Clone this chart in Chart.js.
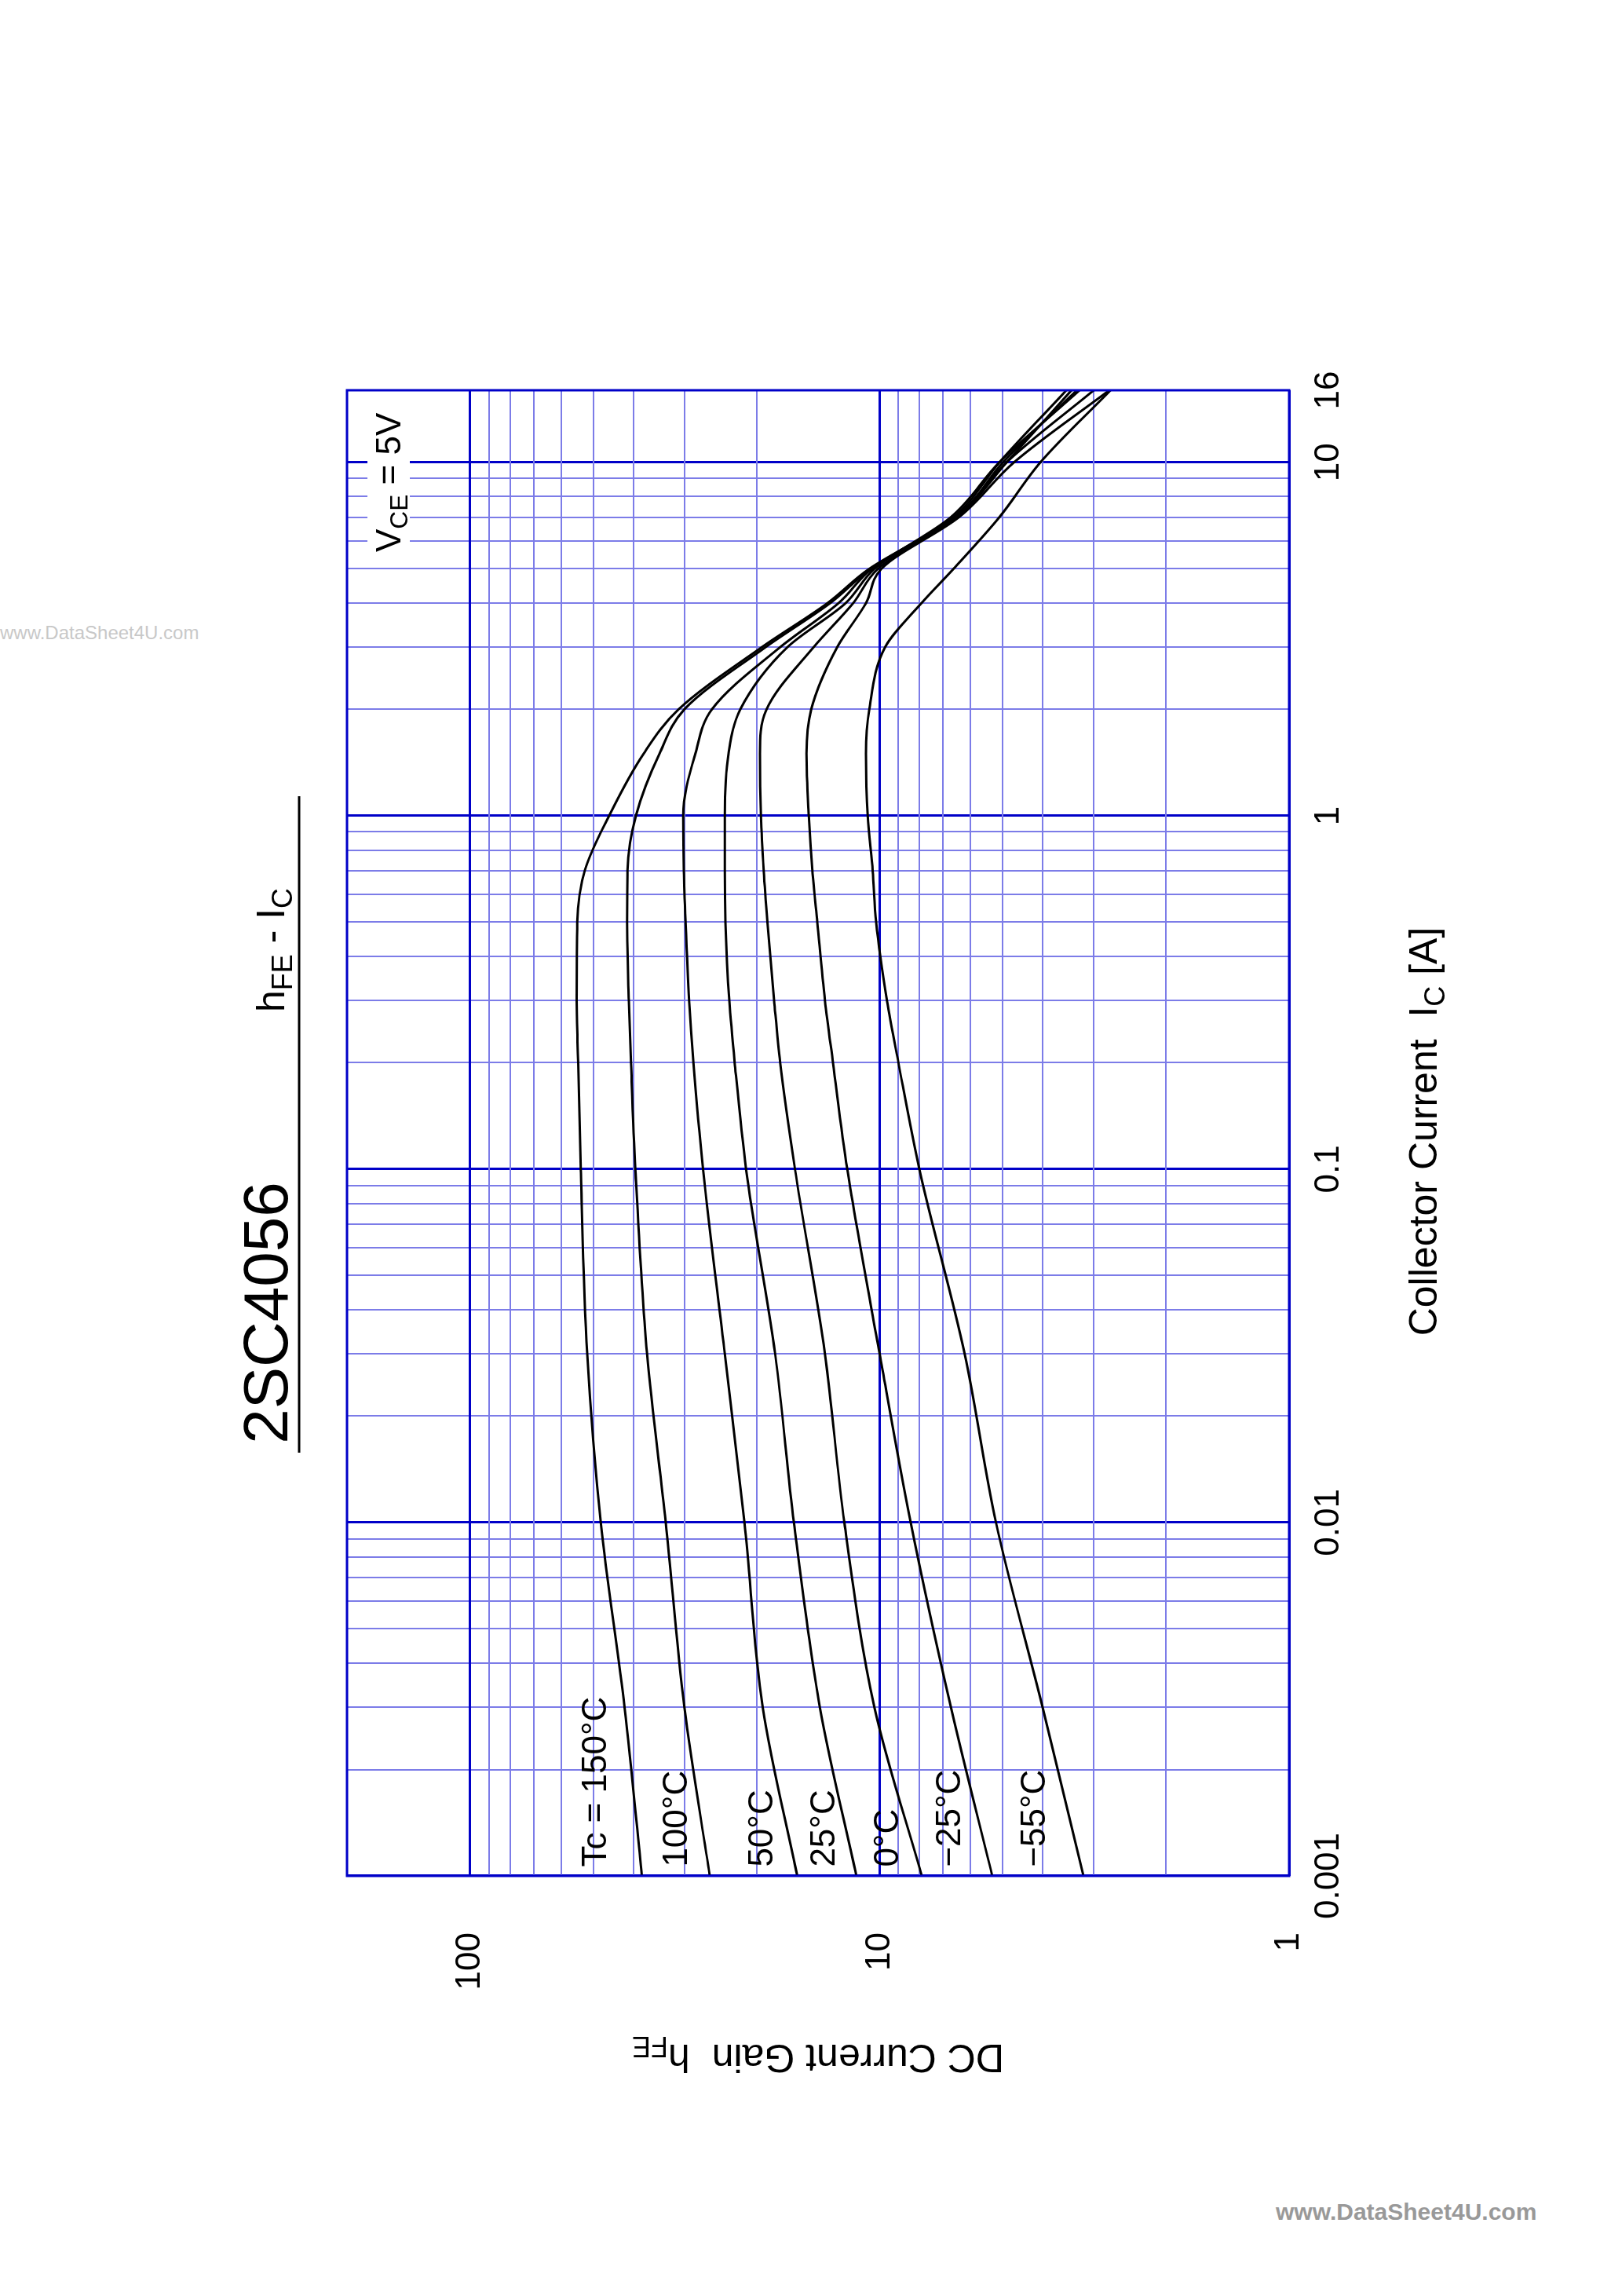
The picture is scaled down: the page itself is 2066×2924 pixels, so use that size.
<!DOCTYPE html>
<html><head><meta charset="utf-8">
<script src="https://cdn.jsdelivr.net/npm/chart.js@4"></script>
<style>
html,body{margin:0;padding:0;background:#fff;width:2066px;height:2924px;overflow:hidden;position:relative;font-family:"Liberation Sans",Arial,sans-serif}
#rot{position:absolute;left:0;top:0;width:2924px;height:2066px;transform-origin:0 0;transform:translate(0,2924px) rotate(-90deg)}
.wm1{position:absolute;left:0;top:792px;font-size:24px;color:#c8c8c8}
.wm2{position:absolute;left:1625px;top:2800px;font-size:30px;font-weight:bold;color:#999}
</style></head><body>
<div class="wm1">www.DataSheet4U.com</div>
<div class="wm2">www.DataSheet4U.com</div>
<div id="rot"><canvas id="c" width="2924" height="2066"></canvas></div>
<script>
const collectorCurrent=[0.001,0.003,0.01,0.03,0.1,0.2,0.3,0.5,0.7,1,1.5,2,3,4,5,7,10,16];
const hfe150=[38.1,42,48,51.8,53.7,54.5,55,54.8,52.5,45.8,37.7,31,19.4,13.4,10.6,6.5,4.9,3.4];
const hfe100=[26.0,30,33.3,37,39.5,40.5,41,41.4,41.3,39.4,34.5,30,19.0,13.2,10.5,6.5,5.0,3.3];
const hfe50=[15.9,19.3,21.4,23.9,27,28.5,29.2,29.8,30.1,30.2,28.2,25.7,17.5,12.6,10.45,6.6,5.1,3.5];
const hfe25=[11.4,14.0,16.2,18.0,21.2,22.6,23.3,23.8,23.9,23.9,23.4,21.9,16.8,12.1,10.3,6.7,5.1,3.25];
const hfe0=[7.89,10.3,12.2,13.6,16.1,17.5,18.1,18.8,19.2,19.5,19.6,18.9,14.5,11.6,10.1,6.5,4.9,3.0];
const hfeM25=[5.31,6.7,8.4,10.0,12.0,13.0,13.6,14.2,14.6,14.9,15.1,14.7,12.7,10.8,9.9,6.4,4.7,2.75];
const hfeM55=[3.18,4.0,5.2,6.2,8.0,9.0,9.6,10.2,10.4,10.7,10.8,10.6,9.7,7.9,6.6,5.1,4.05,2.73];
const seriesNames=["Tc = 150°C","100°C","50°C","25°C","0°C","−25°C","−55°C"];
const labelHfe=[46.6,29.5,18.3,12.9,9.0,6.35,3.94];
const xTickLabels=["0.001","0.01","0.1","1","10","16"];
const yTickLabels=["1","10","100"];

const all=[hfe150,hfe100,hfe50,hfe25,hfe0,hfeM25,hfeM55];
const MAJ='#0000c8', MIN='#7c7ce8', FONT='"Liberation Sans", Arial, sans-serif';
const isDec=v=>Math.abs(Math.log10(v)-Math.round(Math.log10(v)))<1e-6;
const xTicks=[];for(let d=0.001;d<5;d*=10){for(let k=1;k<10;k++)xTicks.push(+(d*k).toPrecision(3));}xTicks.push(10,16);
const yTicks=[];for(let d=1;d<50;d*=10){for(let k=1;k<10;k++)yTicks.push(d*k);}yTicks.push(100,200);

function subText(ctx,parts,x,y,size,align){
  let w=0;parts.forEach(p=>{ctx.font=(p[1]?size*0.72:size)+'px '+FONT;w+=ctx.measureText(p[0]).width;});
  let sx=align==='center'?x-w/2:x;
  parts.forEach(p=>{const s=p[1]?size*0.72:size;ctx.font=s+'px '+FONT;ctx.fillText(p[0],sx,y+(p[1]?size*0.2:0));sx+=ctx.measureText(p[0]).width;});
  return w;
}
const deco={id:'deco',afterDraw(ch){
  const c=ch.ctx,a=ch.chartArea,xs=ch.scales.x,ys=ch.scales.y;
  c.save();
  c.strokeStyle=MAJ;c.lineWidth=3;c.strokeRect(a.left,a.top,a.right-a.left,a.bottom-a.top);
  c.fillStyle='#000';c.textBaseline='alphabetic';c.textAlign='left';
  seriesNames.forEach((n,i)=>{c.font='44px '+FONT;c.fillText(n,xs.getPixelForValue(0.00106),ys.getPixelForValue(labelHfe[i]));});
  const vx=2221,vy=510;c.fillStyle='#fff';c.fillRect(vx-6,vy-42,170,54);c.fillStyle='#000';
  subText(c,[['V',0],['CE',1],[' = 5V',0]],vx,vy,44,'left');
  c.font='80px '+FONT;c.textAlign='center';c.fillText('2SC4056',1252,366);
  c.textAlign='left';
  c.strokeStyle='#000';c.lineWidth=3;c.beginPath();c.moveTo(1074,381);c.lineTo(1910,381);c.stroke();
  subText(c,[['h',0],['FE',1],[' - I',0],['C',1]],1714,362,50,'center');
  subText(c,[['Collector Current  I',0],['C',1],[' [A]',0]],1483,1830,50,'center');
  c.translate(320,1042);c.rotate(-Math.PI/2);
  subText(c,[['DC Current Gain  h',0],['FE',1]],0,0,50,'center');
  c.restore();
}};
new Chart(document.getElementById('c'),{
  type:'scatter',
  data:{datasets:all.map((arr,i)=>({label:seriesNames[i],data:collectorCurrent.map((x,j)=>({x,y:arr[j]})),showLine:true,borderColor:'#000',borderWidth:3,pointRadius:0,cubicInterpolationMode:'monotone',fill:false}))},
  options:{responsive:false,devicePixelRatio:1,animation:false,
    layout:{padding:{left:0,right:497,top:442,bottom:0}},
    plugins:{legend:{display:false},tooltip:{enabled:false}},
    scales:{
      x:{type:'logarithmic',min:0.001,max:16,
        afterBuildTicks:s=>{s.ticks=xTicks.map(v=>({value:v}));},
        afterFit:s=>{s.height=424;},
        border:{display:false},
        grid:{drawTicks:false,color:c=>isDec(c.tick.value)?MAJ:MIN,lineWidth:c=>isDec(c.tick.value)?3:2},
        ticks:{autoSkip:false,maxRotation:0,padding:24,color:'#000',font:{size:44,family:FONT},
          callback:v=>{const s=String(+v.toPrecision(3));return xTickLabels.includes(s)?s:'';}}},
      y:{type:'logarithmic',min:1,max:200,
        afterBuildTicks:s=>{s.ticks=yTicks.map(v=>({value:v}));},
        afterFit:s=>{s.width=535;},
        border:{display:false},
        grid:{drawTicks:false,color:c=>c.tick.value===200?'rgba(0,0,0,0)':(isDec(c.tick.value)?MAJ:MIN),lineWidth:c=>isDec(c.tick.value)?3:2},
        ticks:{autoSkip:false,padding:72,color:'#000',font:{size:44,family:FONT},
          callback:v=>{const s=String(v);return yTickLabels.includes(s)?s:'';}}}
    }},
  plugins:[deco]
});
</script></body></html>
